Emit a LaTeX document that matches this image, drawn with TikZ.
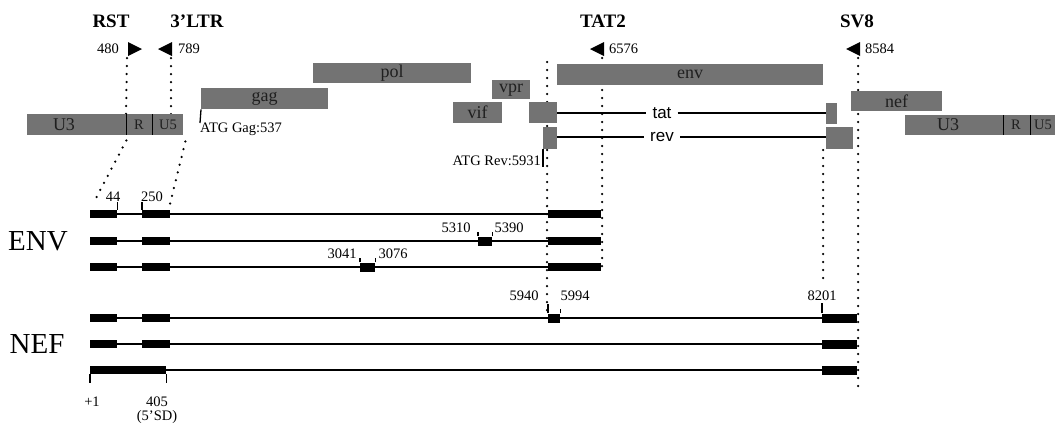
\documentclass[tikz,border=0pt]{standalone}
\usepackage{fontspec}
\setmainfont{Liberation Serif}
\newfontfamily\sansf{Liberation Sans}
\newcommand\numfont{\fontsize{14.5}{15}\selectfont}
\newcommand\genefont{\fontsize{18}{18}\selectfont}
\newcommand\headfont{\fontsize{19}{19}\selectfont\bfseries}
\newcommand\bigfont{\fontsize{29}{29}\selectfont}
\begin{document}
\begin{tikzpicture}[x=1pt,y=-1pt,
  gene/.style={fill=black!55,draw=none,inner sep=0pt,text=black!88,font=\genefont,anchor=north west},
  exon/.style={fill=black,draw=none,inner sep=0pt,minimum height=8pt,anchor=west},
  intron/.style={line width=1.2pt},
  tick/.style={line width=1.3pt},
  divider/.style={line width=1.4pt},
  dots/.style={line width=2.5pt,line cap=round,dash pattern=on 0pt off 8pt},
  num/.style={font=\numfont,inner sep=0pt},
  head/.style={font=\headfont,inner sep=0pt},
  big/.style={font=\bigfont,inner sep=0pt},
  small/.style={text=black!88,font=\numfont,inner sep=0pt},
  tri/.style={fill=black}]
\useasboundingbox (0,0) rectangle (1055,424);

% ---------- headers ----------
\node[head] (hRST) at (111,21) {RST};
\node[head] (hLTR) at (197,21) {3'LTR};
\node[head] (hTAT) at (603,21) {TAT2};
\node[head] (hSV)  at (857,21) {SV8};

% ---------- primer triangles ----------
\fill[tri] (128,42) -- (142,49) -- (128,56) -- cycle;
\fill[tri] (172,42) -- (158,49) -- (172,56) -- cycle;
\fill[tri] (604,42) -- (590,49) -- (604,56) -- cycle;
\fill[tri] (860,42) -- (846,49) -- (860,56) -- cycle;
\node[num,anchor=east] (n480) at (119,49) {480};
\node[num,anchor=west] (n789) at (178,49) {789};
\node[num,anchor=west] (n6576) at (609,49) {6576};
\node[num,anchor=west] (n8584) at (865,49) {8584};
\coordinate (t1) at (127,58);
\coordinate (t2) at (171,58);
\coordinate (t3) at (602,58);
\coordinate (t4) at (858,58);

% ---------- dotted guide lines (behind boxes) ----------
\coordinate (r1top) at (126,114);
\coordinate (r2top) at (171,114);
\coordinate (c44) at (95,200);
\coordinate (c250) at (170,204);
\coordinate (gA) at (547,62);
\coordinate (gB) at (547,310);
\coordinate (gC) at (602,270);
\coordinate (gD) at (823,150);
\coordinate (gE) at (823,284);
\coordinate (gF) at (858,392);
\draw[dots] (t1) -- (r1top);
\draw[dots] (t2) -- (r2top);
\draw[dots] (gA) -- (gB);
\draw[dots] (t3) -- (gC);
\draw[dots] (gD) -- (gE);
\draw[dots] (t4) -- (gF);

% ---------- left LTR ----------
\node[gene,minimum width=99pt,minimum height=21pt] (u3L) at (27,114) {};
\node[gene,minimum width=26pt,minimum height=21pt] (rL) at (126,114) {};
\node[gene,minimum width=31pt,minimum height=21pt] (u5L) at (152,114) {};
\node[text=black!88,font=\genefont,inner sep=0pt] (u3Lt) at (64,125) {U3};
\node[small] (rLt) at (139,125) {R};
\node[small] (u5Lt) at (168,125) {U5};
\draw[divider] (u3L.north east) -- (u3L.south east);
\draw[divider] (rL.north east) -- (rL.south east);
\draw[dots] ([yshift=-5pt]u3L.south east) -- (c44);
\draw[dots] ([xshift=2pt,yshift=-6pt]u5L.south east) -- (c250);

% ---------- genes ----------
\node[gene,minimum width=127pt,minimum height=21pt] (gag) at (201,88) {gag};
\node[gene,minimum width=158pt,minimum height=20pt] (pol) at (313,63) {pol};
\node[gene,minimum width=38pt,minimum height=19pt] (vpr) at (492,80) {vpr};
\node[gene,minimum width=49pt,minimum height=21pt] (vif) at (453,102) {vif};
\node[gene,minimum width=266pt,minimum height=21pt] (env) at (557,64) {env};
\node[gene,minimum width=28pt,minimum height=21pt] (tat1) at (529,102) {};
\node[gene,minimum width=11pt,minimum height=21pt] (tat2) at (826,103) {};
\node[gene,minimum width=14pt,minimum height=22pt] (rev1) at (543,127) {};
\node[gene,minimum width=27pt,minimum height=22pt] (rev2) at (826,127) {};
\node[gene,minimum width=91pt,minimum height=20pt] (nef) at (851,91) {nef};

% ---------- right LTR ----------
\node[gene,minimum width=98pt,minimum height=20pt] (u3R) at (905,115) {};
\node[gene,minimum width=27pt,minimum height=20pt] (rR) at (1003,115) {};
\node[gene,minimum width=25pt,minimum height=20pt] (u5R) at (1030,115) {};
\node[text=black!88,font=\genefont,inner sep=0pt] (u3Rt) at (948,125) {U3};
\node[small] (rRt) at (1016,125) {R};
\node[small] (u5Rt) at (1043,125) {U5};
\draw[divider] (u3R.north east) -- (u3R.south east);
\draw[divider] (rR.north east) -- (rR.south east);

% ---------- tat / rev ----------
\node[font=\sansf\fontsize{17}{17}\selectfont,inner sep=0pt] (tatl) at (662,113) {tat};
\node[font=\sansf\fontsize{17}{17}\selectfont,inner sep=0pt] (revl) at (662,137) {rev};
\draw[intron] (tat1.east |- tatl) -- ([xshift=-6pt]tatl.west);
\draw[intron] ([xshift=6pt]tatl.east) -- (tat2.west |- tatl);
\draw[intron] (rev1.east |- revl) -- ([xshift=-6pt]revl.west);
\draw[intron] ([xshift=6pt]revl.east) -- (rev2.west |- revl);

% ---------- ATG labels ----------
\node[num,anchor=north west] (atgGag) at (200,123) {ATG Gag:537};
\draw[tick] (gag.south west) -- (atgGag.north west);
\node[num,anchor=east] (atgRev) at (541,161) {ATG Rev:5931};
\coordinate (atgRevEnd) at (543,167);
\draw[tick] (rev1.south west) -- (atgRevEnd);

% ---------- ENV transcripts ----------
\node[big] (lENV) at (38,241) {ENV};
% row 1
\node[exon,minimum width=27pt] (a1) at (90,214) {};
\node[exon,minimum width=28pt] (a2) at (142,214) {};
\node[exon,minimum width=53pt] (a3) at (548,214) {};
\draw[intron] (a1) -- (a2);
\draw[intron] (a2) -- (a3);
\draw[tick] (a1.north east) -- ++(0,-8);
\draw[tick] (a2.north west) -- ++(0,-8);
\node[num] (l44) at (113,197) {44};
\node[num] (l250) at (152,197) {250};
% row 2
\node[exon,minimum width=27pt] (b1) at (90,241) {};
\node[exon,minimum width=28pt] (b2) at (142,241) {};
\node[exon,minimum width=14pt,minimum height=9pt] (b3) at (478,241) {};
\node[exon,minimum width=53pt] (b4) at (548,241) {};
\draw[intron] (b1) -- (b2);
\draw[intron] (b2) -- (b3);
\draw[intron] (b3) -- (b4);
\draw[tick] (b3.north west) -- ++(0,-4);
\draw[tick] (b3.north east) -- ++(0,-4);
\node[num] (l5310) at (456,228) {5310};
\node[num] (l5390) at (509,228) {5390};
% row 3
\node[exon,minimum width=27pt] (c1) at (90,267) {};
\node[exon,minimum width=28pt] (c2) at (142,267) {};
\node[exon,minimum width=15pt,minimum height=9pt] (c3) at (360,267) {};
\node[exon,minimum width=53pt] (c4) at (548,267) {};
\draw[intron] (c1) -- (c2);
\draw[intron] (c2) -- (c3);
\draw[intron] (c3) -- (c4);
\draw[tick] (c3.north west) -- ++(0,-4);
\draw[tick] (c3.north east) -- ++(0,-4);
\node[num] (l3041) at (342,254) {3041};
\node[num] (l3076) at (393,254) {3076};

% ---------- NEF transcripts ----------
\node[big] (lNEF) at (37,344) {NEF};
\node[num] (l5940) at (524,296) {5940};
\node[num] (l5994) at (575,296) {5994};
\node[num] (l8201) at (822,296) {8201};
% row 1
\node[exon,minimum width=27pt] (d1) at (90,318) {};
\node[exon,minimum width=28pt] (d2) at (142,318) {};
\node[exon,minimum width=12pt,minimum height=9pt] (d3) at (548,318) {};
\node[exon,minimum width=35pt,minimum height=9pt] (d4) at (822,318) {};
\draw[intron] (d1) -- (d2);
\draw[intron] (d2) -- (d3);
\draw[intron] (d3) -- (d4);
\draw[tick] (d3.north west) -- ++(0,-9);
\draw[tick] (d3.north east) -- ++(0,-4);
\draw[tick] (d4.north west) -- ++(0,-10);
% row 2
\node[exon,minimum width=27pt] (e1) at (90,344) {};
\node[exon,minimum width=28pt] (e2) at (142,344) {};
\node[exon,minimum width=35pt,minimum height=9pt] (e3) at (822,344) {};
\draw[intron] (e1) -- (e2);
\draw[intron] (e2) -- (e3);
% row 3
\node[exon,minimum width=76pt] (f1) at (90,370) {};
\node[exon,minimum width=35pt,minimum height=9pt] (f2) at (822,370) {};
\draw[intron] (f1) -- (f2);
\draw[tick] (f1.south west) -- ++(0,9);
\draw[tick] (f1.south east) -- ++(0,9);
\node[num] (lp1) at (92,402) {+1};
\node[num] (l405) at (157,402) {405};
\node[num] (l5sd) at (157,417) {(5'SD)};
\end{tikzpicture}
\end{document}
